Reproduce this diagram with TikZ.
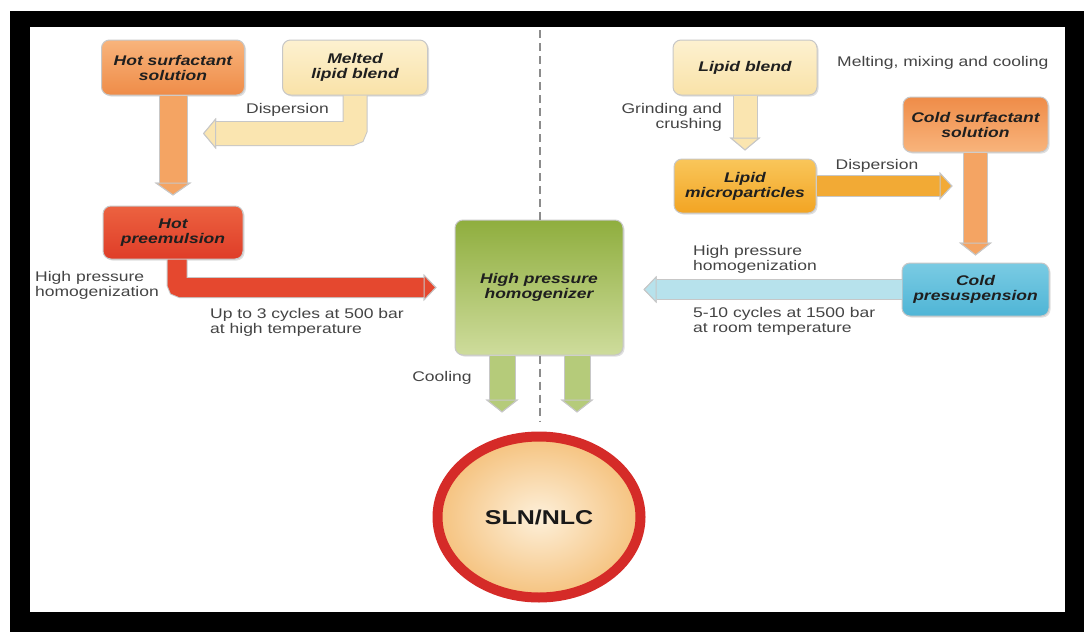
\documentclass[tikz,border=0pt]{standalone}
\usepackage{fontspec}
\setmainfont{Liberation Sans}[FakeStretch=1.25]
\usepackage{xcolor}
\usepackage{tikz}
\usetikzlibrary{arrows.meta,positioning,shapes.geometric,shadows}
\definecolor{slnorange}{HTML}{EF8C48}
\definecolor{slnorangelt}{HTML}{F8B47C}
\definecolor{slnred}{HTML}{DF3D28}
\definecolor{slnredlt}{HTML}{EC6240}
\definecolor{slncream}{HTML}{F9E2A8}
\definecolor{slncreamlt}{HTML}{FDF1D0}
\definecolor{slngold}{HTML}{F2A423}
\definecolor{slngoldlt}{HTML}{F9C65A}
\definecolor{slngreen}{HTML}{8FAE3E}
\definecolor{slngreenlt}{HTML}{CEDC9C}
\definecolor{slncyan}{HTML}{4FB5D6}
\definecolor{slncyanlt}{HTML}{7ACBE3}
\definecolor{slnring}{HTML}{D52B28}
\definecolor{slnpeach}{HTML}{F5C27E}
\definecolor{slnpeachlt}{HTML}{FDF0DA}
\definecolor{slncreamarr}{HTML}{FAE5B0}
\definecolor{slnorangearr}{HTML}{F4A463}
\definecolor{slnredarr}{HTML}{E5482F}
\definecolor{slngoldarr}{HTML}{F2AA35}
\definecolor{slnskyarr}{HTML}{B7E2EC}
\definecolor{slngreenarr}{HTML}{B5CB7A}
\definecolor{slntext}{HTML}{444444}

\begin{document}
\begin{tikzpicture}[
  x=1pt,y=-1pt,
  every node/.style={font=\fontsize{14}{15}\selectfont},
  stepbox/.style={draw=black!22,line width=1pt,rounded corners=8pt,minimum width=143pt,minimum height=55pt,align=center,inner sep=0pt,text=black!88,font=\fontsize{14}{15}\selectfont\bfseries\itshape,drop shadow={opacity=0.25,shadow xshift=1.5pt,shadow yshift=-1.5pt}},
  note/.style={text=slntext,inner sep=0pt},
  flow/.style n args={3}{draw=#1,line width=#2,rounded corners=4pt,
    preaction={draw=black!22,line width=#2+2pt,-{Triangle[length=13pt,width=#3,line width=0pt]}},
    -{Triangle[length=13pt,width=#3,line width=1pt,color=black!22,fill=#1]}},
  divider/.style={draw=black!45,line width=1.5pt,dash pattern=on 8pt off 5pt}
]
\useasboundingbox (0,0) rectangle (1084,632);
\fill[black] (10,11) rectangle (1084,632);
\fill[white] (30,27) rectangle (1065,612);

% hot process
\node[stepbox,top color=slnorangelt,bottom color=slnorange] (hotsurf) at (173,67.5) {Hot surfactant\\solution};
\node[stepbox,right=37pt of hotsurf,minimum width=145pt,top color=slncreamlt,bottom color=slncream] (melted) {Melted\\lipid blend};
\node[stepbox,below=110pt of hotsurf,minimum width=140pt,minimum height=53pt,top color=slnredlt,bottom color=slnred] (hotpre) {Hot\\preemulsion};

% homogenizer and product
\node[stepbox,minimum width=168pt,minimum height=135pt,top color=slngreen,bottom color=slngreenlt] (homog) at (539,287.5) {High pressure\\homogenizer};
\node[ellipse,draw=slnring,line width=10pt,minimum width=203pt,minimum height=161pt,inner color=slnpeachlt,outer color=slnpeach,text=black!90,font=\fontsize{20}{24}\selectfont\bfseries,drop shadow={opacity=0.2,shadow xshift=2pt,shadow yshift=-2pt},below=76pt of homog] (sln) {SLN/NLC};

% cold process
\node[stepbox,minimum width=144pt,top color=slncreamlt,bottom color=slncream] (lipid) at (745,67.5) {Lipid blend};
\node[stepbox,below=63pt of lipid,minimum width=142pt,minimum height=54pt,top color=slngoldlt,bottom color=slngold] (micro) {Lipid\\microparticles};
\node[stepbox,minimum width=145pt,top color=slnorange,bottom color=slnorangelt] (coldsurf) at (975.5,124.5) {Cold surfactant\\solution};
\node[stepbox,below=110pt of coldsurf,minimum width=147pt,minimum height=53pt,top color=slncyanlt,bottom color=slncyan] (coldpre) {Cold\\presuspension};

\coordinate (displeft) at (203,133.5);
\draw[divider] (homog.north -| 540,0) -- (540,28);
\draw[divider] (homog.south -| 540,0) -- (540,422);

\draw[flow={slncreamarr}{23pt}{31pt}] (melted.south) |- (displeft);
\draw[flow={slnorangearr}{27pt}{37pt},shorten >=10pt] (hotsurf.south) -- (hotpre.north);
\draw[flow={slnredarr}{19pt}{27pt},shorten >=18pt] ([xshift=4pt]hotpre.south) |- (homog.west);
\draw[flow={slngreenarr}{25pt}{33pt},shorten >=19pt] ([xshift=-37pt]homog.south) -- ([xshift=-37pt]homog.south |- sln.north);
\draw[flow={slngreenarr}{25pt}{33pt},shorten >=19pt] ([xshift=38pt]homog.south) -- ([xshift=38pt]homog.south |- sln.north);
\draw[flow={slncreamarr}{23pt}{31pt},shorten >=8pt] (lipid.south) -- (micro.north);
\draw[flow={slngoldarr}{20pt}{28pt}] (micro.east) -- ([xshift=-23pt]coldsurf.south |- micro.east);
\draw[flow={slnorangearr}{23pt}{33pt},shorten >=7pt] (coldsurf.south) -- (coldpre.north);
\draw[flow={slnskyarr}{19pt}{27pt},shorten >=20pt] (coldpre.west) -- (homog.east |- coldpre.west);

% labels
\node[note] (dispL) at (287.5,110) {Dispersion};
\node[note,anchor=west,align=left] (hphL) at (35,285.5) {High pressure\\homogenization};
\node[note,anchor=west,align=left] (cycL) at (210,322.5) {Up to 3 cycles at 500 bar\\at high temperature};
\node[note] (cool) at (442,378) {Cooling};
\node[note,anchor=west] (melt) at (837,63) {Melting, mixing and cooling};
\node[note,anchor=east,align=right] (grind) at (722,117.5) {Grinding and\\crushing};
\node[note] (dispR) at (877,166) {Dispersion};
\node[note,anchor=west,align=left] (hphR) at (693,259.5) {High pressure\\homogenization};
\node[note,anchor=west,align=left] (cycR) at (693,321) {5-10 cycles at 1500 bar\\at room temperature};
\end{tikzpicture}
\end{document}
